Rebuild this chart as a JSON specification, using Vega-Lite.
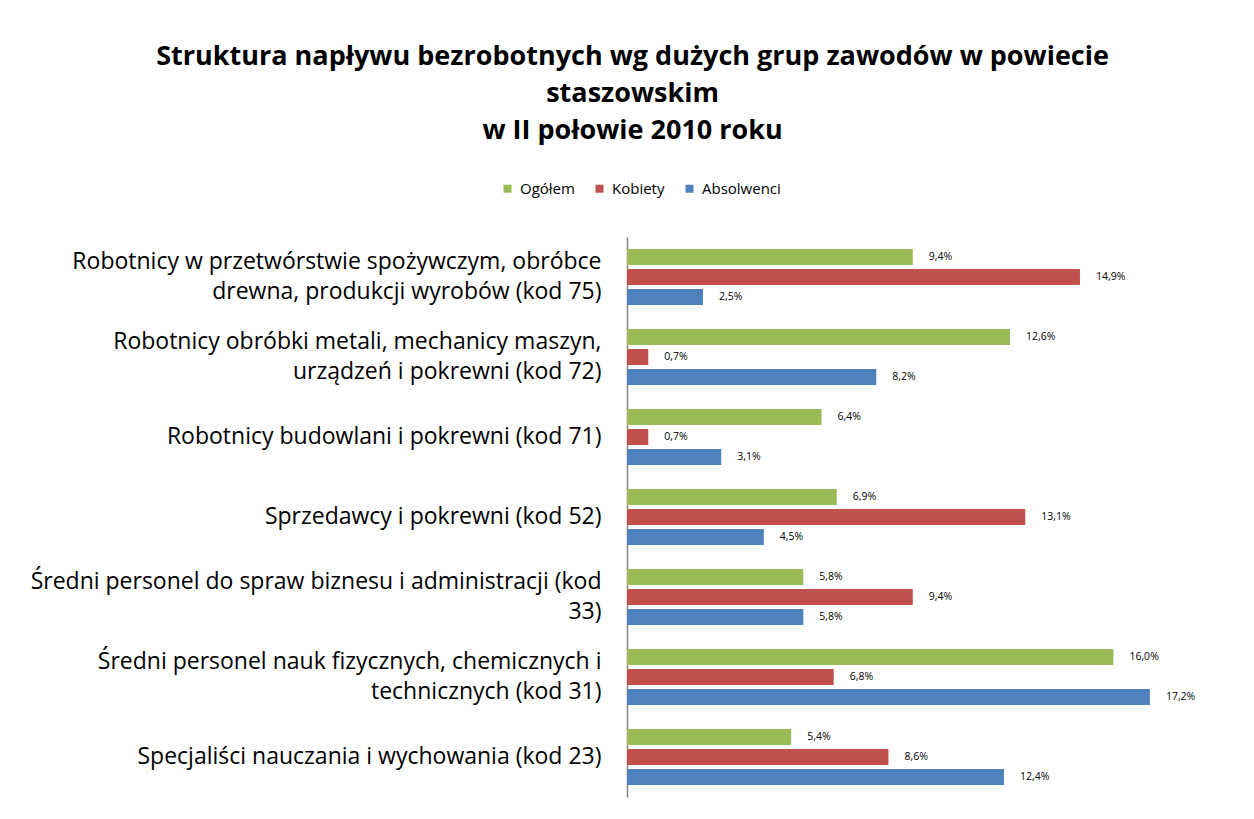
{
  "$schema": "https://vega.github.io/schema/vega-lite/v6.json",
  "width": 608,
  "height": 560,
  "autosize": "none",
  "padding": {"left": 627, "top": 237, "right": 19, "bottom": 22},
  "background": "white",
  "title": {
    "text": ["Struktura napływu bezrobotnych wg dużych grup zawodów w powiecie", "staszowskim", "w II połowie 2010 roku"],
    "font": "Open Sans",
    "fontSize": 27,
    "fontWeight": "bold",
    "color": "black",
    "lineHeight": 37,
    "anchor": "middle",
    "frame": "bounds",
    "offset": 36
  },
  "data": {
    "values": [
      {"kat": "Robotnicy w przetwórstwie spożywczym, obróbce|drewna, produkcji wyrobów (kod 75)", "seria": "Ogółem", "v": 0.094},
      {"kat": "Robotnicy w przetwórstwie spożywczym, obróbce|drewna, produkcji wyrobów (kod 75)", "seria": "Kobiety", "v": 0.149},
      {"kat": "Robotnicy w przetwórstwie spożywczym, obróbce|drewna, produkcji wyrobów (kod 75)", "seria": "Absolwenci", "v": 0.025},
      {"kat": "Robotnicy obróbki metali, mechanicy maszyn,|urządzeń i pokrewni (kod 72)", "seria": "Ogółem", "v": 0.126},
      {"kat": "Robotnicy obróbki metali, mechanicy maszyn,|urządzeń i pokrewni (kod 72)", "seria": "Kobiety", "v": 0.007},
      {"kat": "Robotnicy obróbki metali, mechanicy maszyn,|urządzeń i pokrewni (kod 72)", "seria": "Absolwenci", "v": 0.082},
      {"kat": "Robotnicy budowlani i pokrewni (kod 71)", "seria": "Ogółem", "v": 0.064},
      {"kat": "Robotnicy budowlani i pokrewni (kod 71)", "seria": "Kobiety", "v": 0.007},
      {"kat": "Robotnicy budowlani i pokrewni (kod 71)", "seria": "Absolwenci", "v": 0.031},
      {"kat": "Sprzedawcy i pokrewni (kod 52)", "seria": "Ogółem", "v": 0.069},
      {"kat": "Sprzedawcy i pokrewni (kod 52)", "seria": "Kobiety", "v": 0.131},
      {"kat": "Sprzedawcy i pokrewni (kod 52)", "seria": "Absolwenci", "v": 0.045},
      {"kat": "Średni personel do spraw biznesu i administracji (kod|33)", "seria": "Ogółem", "v": 0.058},
      {"kat": "Średni personel do spraw biznesu i administracji (kod|33)", "seria": "Kobiety", "v": 0.094},
      {"kat": "Średni personel do spraw biznesu i administracji (kod|33)", "seria": "Absolwenci", "v": 0.058},
      {"kat": "Średni personel nauk fizycznych, chemicznych i|technicznych (kod 31)", "seria": "Ogółem", "v": 0.160},
      {"kat": "Średni personel nauk fizycznych, chemicznych i|technicznych (kod 31)", "seria": "Kobiety", "v": 0.068},
      {"kat": "Średni personel nauk fizycznych, chemicznych i|technicznych (kod 31)", "seria": "Absolwenci", "v": 0.172},
      {"kat": "Specjaliści nauczania i wychowania (kod 23)", "seria": "Ogółem", "v": 0.054},
      {"kat": "Specjaliści nauczania i wychowania (kod 23)", "seria": "Kobiety", "v": 0.086},
      {"kat": "Specjaliści nauczania i wychowania (kod 23)", "seria": "Absolwenci", "v": 0.124}
    ]
  },
  "encoding": {
    "y": {
      "field": "kat",
      "type": "nominal",
      "sort": null,
      "scale": {"paddingInner": 0.25, "paddingOuter": 0.125},
      "axis": {
        "title": null,
        "domainColor": "#868686",
        "domainWidth": 1.5,
        "ticks": false,
        "labelFont": "Open Sans",
        "labelFontSize": 23,
        "labelColor": "black",
        "labelPadding": 26,
        "labelLineHeight": 30,
        "labelLimit": 700,
        "labelOffset": {"condition": {"test": "indexof(datum.value, '|') >= 0", "value": -15}, "value": 0},
        "labelExpr": "split(datum.value, '|')"
      }
    },
    "yOffset": {
      "field": "seria",
      "type": "nominal",
      "sort": ["Ogółem", "Kobiety", "Absolwenci"],
      "scale": {"paddingInner": 0.2, "paddingOuter": 0.1}
    },
    "x": {
      "field": "v",
      "type": "quantitative",
      "scale": {"domain": [0, 0.2], "nice": false},
      "axis": null
    }
  },
  "layer": [
    {
      "mark": {"type": "bar"},
      "encoding": {
        "color": {
          "field": "seria",
          "type": "nominal",
          "sort": ["Ogółem", "Kobiety", "Absolwenci"],
          "scale": {"domain": ["Ogółem", "Kobiety", "Absolwenci"], "range": ["#9BBB59", "#C0504D", "#4F81BD"]},
          "legend": {
            "title": null,
            "orient": "none",
            "direction": "horizontal",
            "legendX": -127,
            "legendY": -56,
            "symbolType": "square",
            "symbolSize": 64,
            "symbolStrokeWidth": 0,
            "labelFont": "Open Sans",
            "labelFontSize": 15,
            "labelColor": "black",
            "columnPadding": 17,
            "labelOffset": 5
          }
        }
      }
    },
    {
      "mark": {"type": "text", "align": "left", "baseline": "middle", "dx": 16, "font": "Open Sans", "fontSize": 10.5, "color": "black"},
      "encoding": {
        "text": {"field": "v", "type": "quantitative", "format": ".1%"}
      }
    }
  ],
  "config": {
    "view": {"stroke": null},
    "locale": {
      "number": {"decimal": ",", "thousands": " ", "grouping": [3], "currency": ["", " zł"]}
    }
  }
}
